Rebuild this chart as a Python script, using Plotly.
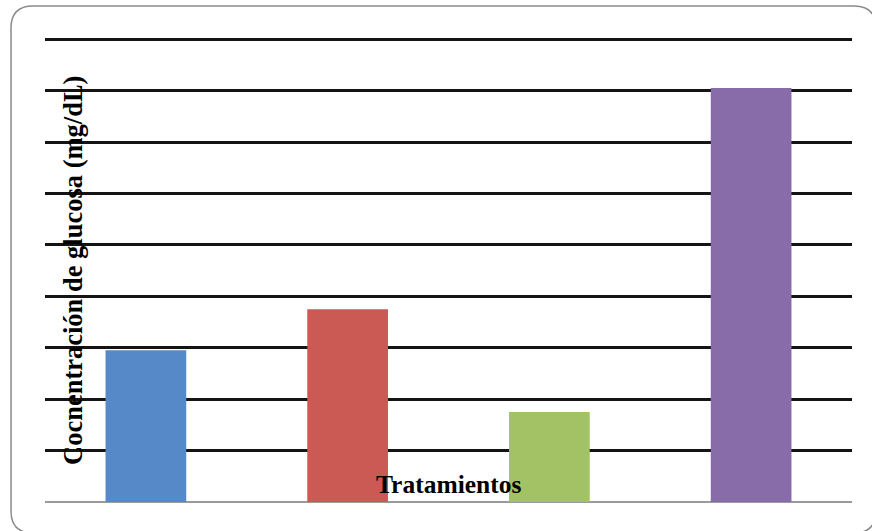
import plotly.graph_objects as go

# Glucose concentration per treatment (values in gridline units)
tratamientos = ["T1", "T2", "T3", "T4"]
glucosa = [2.95, 3.75, 1.75, 8.05]
colores = ["#5689C8", "#CB5A55", "#A3C265", "#886CA9"]

W, H = 872, 531
M_L, M_R, M_T, M_B = 45, 20, 34, 29
Y_MAX = 9.1

fig = go.Figure(
    go.Bar(
        x=tratamientos,
        y=glucosa,
        width=0.4,
        marker=dict(color=colores, line=dict(width=0)),
        showlegend=False,
    )
)


def px_to_paper(px, py):
    pw = W - M_L - M_R
    ph = H - M_T - M_B
    return (px - M_L) / pw, (H - M_B - py) / ph


# Rounded frame around the chart
x0, y0 = 11, 6
x1, y1 = 876, 533
r = 22
pts = [
    ("M", x0 + r, y0), ("L", x1 - r, y0), ("Q", x1, y0, x1, y0 + r),
    ("L", x1, y1 - r), ("Q", x1, y1, x1 - r, y1), ("L", x0 + r, y1),
    ("Q", x0, y1, x0, y1 - r), ("L", x0, y0 + r), ("Q", x0, y0, x0 + r, y0),
]
path = ""
for p in pts:
    cmd, coords = p[0], p[1:]
    conv = []
    for i in range(0, len(coords), 2):
        a, b = px_to_paper(coords[i], coords[i + 1])
        conv.append(f"{a:.5f},{b:.5f}")
    path += cmd + " " + " ".join(conv) + " "
path += "Z"

fig.add_shape(type="path", path=path, xref="paper", yref="paper",
              line=dict(color="#8a8a8a", width=1.5), layer="below")

serif = "Liberation Serif, Times New Roman, serif"

fig.add_annotation(
    text="<b>Cocnentración de glucosa (mg/dL)</b>",
    textangle=-90, xref="paper", yref="paper",
    x=px_to_paper(73, 0)[0], y=px_to_paper(0, 271)[1],
    showarrow=False, xanchor="center", yanchor="middle",
    font=dict(family=serif, size=26.5, color="black"),
)
fig.add_annotation(
    text="<b>Tratamientos</b>",
    xref="paper", yref="paper",
    x=px_to_paper(448.5, 0)[0], y=px_to_paper(0, 484)[1],
    showarrow=False, xanchor="center", yanchor="middle",
    font=dict(family=serif, size=25.5, color="black"),
)

fig.update_layout(
    width=W, height=H,
    margin=dict(l=M_L, r=M_R, t=M_T, b=M_B),
    paper_bgcolor="white", plot_bgcolor="white",
    xaxis=dict(showticklabels=False, showgrid=False, zeroline=False,
               showline=False, ticks="", range=[-0.5, 3.5]),
    yaxis=dict(range=[0, Y_MAX], dtick=1, showticklabels=False, ticks="",
               showgrid=True, gridcolor="#141414", gridwidth=2.5,
               zeroline=True, zerolinecolor="#9a9a9a", zerolinewidth=2,
               showline=False),
)

fig.write_html("out.html")
